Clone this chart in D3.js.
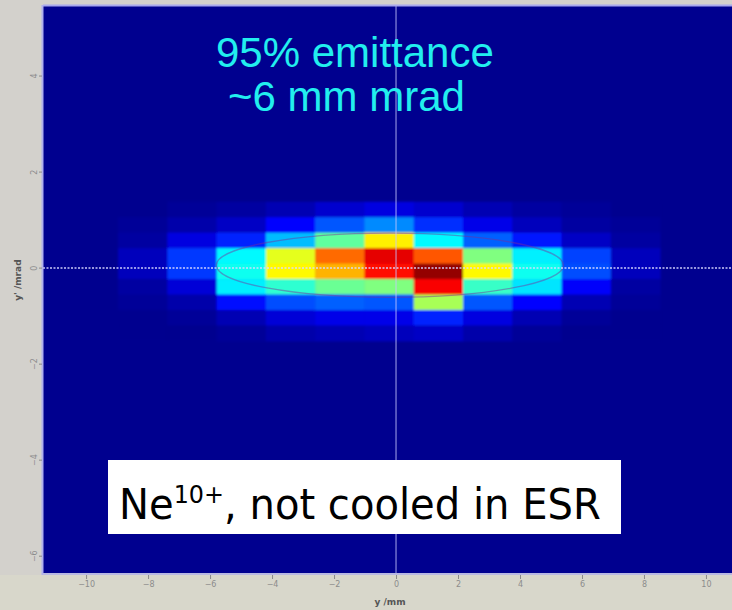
<!DOCTYPE html>
<html><head><meta charset="utf-8">
<script src="https://cdn.jsdelivr.net/npm/d3@7"></script>
<style>html,body{margin:0;padding:0;background:#d3d1cc;}svg{display:block;}</style>
</head><body>
<svg id="c" width="732" height="610"></svg>
<script>
// ---- data ----
const xTicks = [-10, -8, -6, -4, -2, 0, 2, 4, 6, 8, 10];
const yTicks = [4, 2, 0, -2, -4, -6];
const xBinStart = -8.97;   // mm, left edge of first bin
const xBinWidth = 1.59;    // mm
const yBinTop = 1.382;     // mrad, top edge of first row
const yBinHeight = 0.322;  // mrad
// intensity (0..1) per row, top to bottom
const row0 = [0, 0.01, 0.02, 0.04, 0.07, 0.09, 0.07, 0.04, 0.02, 0.01, 0];
const row1 = [0.01, 0.03, 0.06, 0.13, 0.21, 0.26, 0.17, 0.10, 0.05, 0.02, 0.01];
const row2 = [0.02, 0.09, 0.16, 0.31, 0.47, 0.64, 0.37, 0.22, 0.15, 0.06, 0.02];
const row3 = [0.05, 0.18, 0.37, 0.60, 0.77, 0.90, 0.79, 0.50, 0.36, 0.19, 0.05];
const row4 = [0.05, 0.18, 0.39, 0.63, 0.70, 0.86, 0.98, 0.63, 0.39, 0.20, 0.05];
const row5 = [0.02, 0.08, 0.36, 0.42, 0.48, 0.50, 0.88, 0.43, 0.35, 0.12, 0.02];
const row6 = [0.01, 0.03, 0.14, 0.20, 0.22, 0.21, 0.54, 0.21, 0.13, 0.04, 0.01];
const row7 = [0, 0.01, 0.04, 0.08, 0.10, 0.10, 0.16, 0.09, 0.04, 0.01, 0];
const row8 = [0, 0, 0.01, 0.03, 0.04, 0.05, 0.06, 0.03, 0.01, 0, 0];
const rows = [row0, row1, row2, row3, row4, row5, row6, row7, row8];
// 95% emittance ellipse (mm, mrad)
const ellipse = {cx: -0.2, cy: 0.06, rx: 5.6, ry: 0.67};
const title1 = "95% emittance";
const title2 = "~6 mm mrad";
const xLabel = "y /mm";
const yLabel = "y' /mrad";

// ---- layout ----
const svg = d3.select("#c");
const L = 43, R = 732, T = 5, B = 573;
const x = d3.scaleLinear().domain([-11.39, 10.84]).range([L, R]);
const y = d3.scaleLinear().domain([5.48, -6.35]).range([T, B]);
const jet = d3.scaleLinear()
  .domain([0, 0.125, 0.375, 0.625, 0.875, 1])
  .range(["#00008f", "#0000ff", "#00ffff", "#ffff00", "#ff0000", "#800000"])
  .clamp(true);

svg.append("rect").attr("width", 732).attr("height", 610).attr("fill", "#d3d1cc");
svg.append("rect").attr("x", 0).attr("y", 575).attr("width", 732).attr("height", 35).attr("fill", "#d8d7cb");

const defs = svg.append("defs");
defs.append("filter").attr("id", "blur").attr("x", "-10%").attr("y", "-10%").attr("width", "120%").attr("height", "120%")
  .append("feGaussianBlur").attr("stdDeviation", 1.1);
defs.append("clipPath").attr("id", "clip").append("rect")
  .attr("x", L).attr("y", T).attr("width", R - L).attr("height", B - T);

const plot = svg.append("g").attr("clip-path", "url(#clip)");
plot.append("rect").attr("x", L).attr("y", T).attr("width", R - L).attr("height", B - T).attr("fill", jet(0));

const cells = [];
rows.forEach((r, i) => r.forEach((v, j) => cells.push({i, j, v})));
const hm = plot.append("g").attr("filter", "url(#blur)");
hm.selectAll("rect").data(cells).join("rect")
  .attr("x", d => x(xBinStart + d.j * xBinWidth))
  .attr("y", d => y(yBinTop - d.i * yBinHeight))
  .attr("width", d => x(xBinStart + (d.j + 1) * xBinWidth) - x(xBinStart + d.j * xBinWidth) + 0.5)
  .attr("height", d => y(yBinTop - (d.i + 1) * yBinHeight) - y(yBinTop - d.i * yBinHeight) + 0.5)
  .attr("fill", d => jet(d.v));

// ellipse
plot.append("ellipse")
  .attr("cx", x(ellipse.cx)).attr("cy", y(ellipse.cy))
  .attr("rx", x(ellipse.cx + ellipse.rx) - x(ellipse.cx))
  .attr("ry", y(ellipse.cy - ellipse.ry) - y(ellipse.cy))
  .attr("fill", "none").attr("stroke", "#7a2c9a").attr("stroke-opacity", 0.45).attr("stroke-width", 1.3);

// crosshair
plot.append("line").attr("x1", x(0)).attr("x2", x(0)).attr("y1", T).attr("y2", B)
  .attr("stroke", "#c8c8ff").attr("stroke-opacity", 0.7).attr("stroke-width", 1.2);
plot.append("line").attr("x1", L).attr("x2", R).attr("y1", y(0)).attr("y2", y(0))
  .attr("stroke", "#d8d8ff").attr("stroke-opacity", 0.7).attr("stroke-width", 2).attr("stroke-dasharray", "2,1.5");

// frame
svg.append("line").attr("x1", L).attr("x2", R).attr("y1", T + 0.5).attr("y2", T + 0.5).attr("stroke", "#a8a8ee").attr("stroke-width", 2);
svg.append("line").attr("x1", L - 0.5).attr("x2", L - 0.5).attr("y1", T).attr("y2", B + 2).attr("stroke", "#b0b0ee").attr("stroke-width", 2);
svg.append("line").attr("x1", L).attr("x2", R).attr("y1", B + 1).attr("y2", B + 1).attr("stroke", "#b8b8e2").attr("stroke-width", 2);

// axes
const xAxis = d3.axisBottom(x).tickValues(xTicks).tickSize(4).tickPadding(2).tickFormat(d3.format("d"));
const gx = svg.append("g").attr("transform", `translate(0,${B + 2})`).call(xAxis);
gx.select(".domain").remove();
gx.selectAll("line").attr("stroke", "#8a8a8a");
gx.selectAll("text").attr("fill", "#8c8c8c").attr("font-size", 8).attr("font-family", "DejaVu Sans");

const yAxis = d3.axisLeft(y).tickValues(yTicks).tickSize(3).tickPadding(2).tickFormat(d3.format("d"));
const gy = svg.append("g").attr("transform", `translate(${L - 1},0)`).call(yAxis);
gy.select(".domain").remove();
gy.selectAll("line").attr("stroke", "#8a8a8a");
gy.selectAll("text").attr("fill", "#8c8c8c").attr("font-size", 8).attr("font-family", "DejaVu Sans")
  .attr("text-anchor", "middle").attr("x", -8)
  .attr("transform", d => `rotate(-90,-8,${y(d)})`).attr("y", d => y(d)).attr("dy", "0.32em");
gy.selectAll(".tick").attr("transform", null);
gy.selectAll(".tick line").attr("y1", d => y(d)).attr("y2", d => y(d)).attr("x2", -3);

svg.append("text").attr("x", x(0) - 6).attr("y", 605).attr("text-anchor", "middle")
  .attr("font-family", "DejaVu Sans").attr("font-size", 9).attr("font-weight", "bold").attr("fill", "#555")
  .text(xLabel);
svg.append("text").attr("transform", `translate(21,${y(0) + 12}) rotate(-90)`).attr("text-anchor", "middle")
  .attr("font-family", "DejaVu Sans").attr("font-size", 9).attr("font-weight", "bold").attr("fill", "#555")
  .text(yLabel);

// annotations
svg.append("text").attr("x", 216).attr("y", 67).attr("font-family", "Liberation Sans, Arial")
  .attr("font-size", 42).attr("fill", "#22eeee").text(title1);
svg.append("text").attr("x", 228).attr("y", 111).attr("font-family", "Liberation Sans, Arial")
  .attr("font-size", 42).attr("fill", "#22eeee").text(title2);

svg.append("rect").attr("x", 108).attr("y", 460).attr("width", 513).attr("height", 74).attr("fill", "#ffffff");
const note = svg.append("text").attr("x", 0).attr("y", 0)
  .attr("font-family", "DejaVu Sans").attr("font-size", 42).attr("fill", "#000");
note.append("tspan").text("Ne");
note.append("tspan").attr("font-size", 25).attr("dy", -16).text("10+");
note.append("tspan").attr("dy", 16).text(", not cooled in ESR");
const bb = note.node().getBBox();
const sx = 482 / bb.width;
note.attr("transform", `translate(${119 - bb.x * sx},519) scale(${sx},1)`);
</script>
</body></html>
